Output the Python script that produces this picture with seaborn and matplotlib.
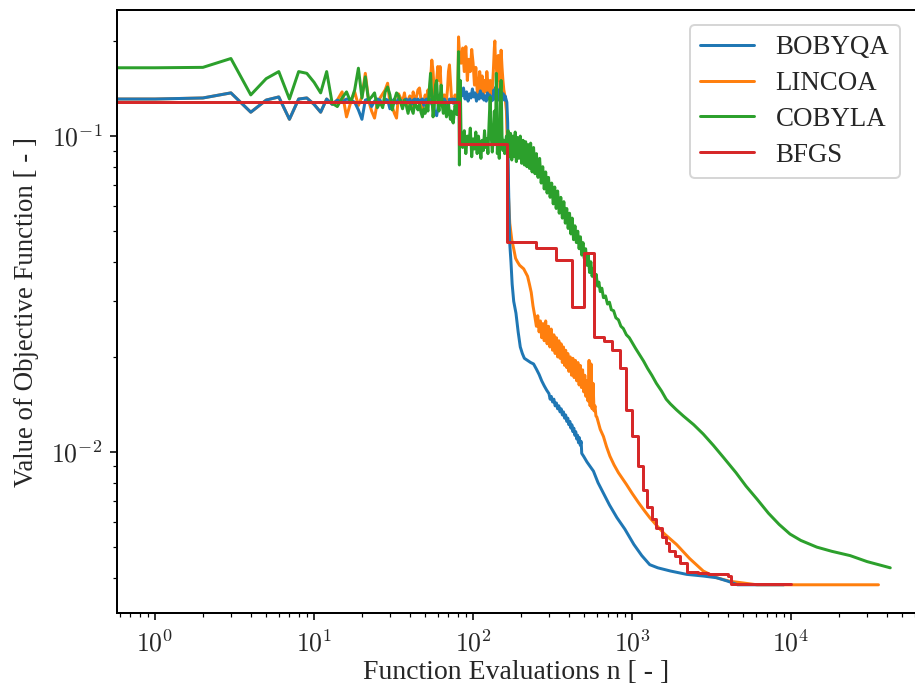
import numpy as np
import pandas as pd
import matplotlib
matplotlib.use("Agg")
import matplotlib.pyplot as plt
import seaborn as sns

# ---------------- data ----------------
labels = ["BOBYQA", "LINCOA", "COBYLA", "BFGS"]
colors = ["#1f77b4", "#ff7f0e", "#2ca02c", "#d62728"]

# shared start of BOBYQA / LINCOA
start_n = [0.5, 1, 2, 3, 4, 5, 6, 7, 8, 9, 10, 11]
start_f = [0.131, 0.131, 0.132, 0.137, 0.119, 0.130, 0.133, 0.113, 0.131, 0.132, 0.126, 0.119]

bobyqa_mid_n = list(range(12, 81))
bobyqa_mid_f = [0.131, 0.126, 0.130, 0.128, 0.131, 0.130, 0.128, 0.121, 0.113, 0.130,
                0.131, 0.124, 0.129, 0.131, 0.130, 0.125, 0.131, 0.130, 0.122, 0.129,
                0.131, 0.127, 0.131, 0.130, 0.124, 0.130, 0.131, 0.128, 0.131, 0.126,
                0.130, 0.131, 0.129, 0.131, 0.127, 0.130, 0.131, 0.125, 0.130, 0.131,
                0.128, 0.131, 0.130, 0.126, 0.131, 0.121, 0.118, 0.116, 0.122, 0.130,
                0.131, 0.127, 0.131, 0.128, 0.131, 0.129, 0.122, 0.117, 0.125, 0.131,
                0.130, 0.128, 0.131, 0.127, 0.131, 0.130, 0.129, 0.131, 0.130]
bobyqa_end_n = [81, 83, 85, 87, 89, 91, 93, 95, 97, 99, 101, 103, 105, 107, 109, 111, 113,
                115, 117, 119, 121, 123, 125, 127, 129, 131, 133, 135, 137, 139, 141, 143,
                145, 147, 149, 151, 153, 155, 157, 159, 161, 163, 165, 167, 170, 173, 176,
                180, 186, 192, 198, 204, 210, 220, 230, 240, 250, 260, 270, 280, 290, 300,
                305, 310, 316, 322, 328, 334, 340, 346, 352, 358, 364, 370, 376, 382, 388,
                394, 400, 406, 412, 418, 424, 430, 436, 442, 448, 454, 460, 466, 472, 478,
                482, 495, 520, 545, 571, 610, 661, 720, 802, 900, 1025, 1150, 1290, 1450,
                1745, 2200, 2800, 3400, 4000, 4600, 6000, 9000]
bobyqa_end_f = [0.131, 0.140, 0.134, 0.142, 0.131, 0.138, 0.129, 0.136, 0.132, 0.141, 0.133,
                0.137, 0.129, 0.135, 0.131, 0.139, 0.132, 0.136, 0.130, 0.134, 0.129, 0.137,
                0.131, 0.135, 0.128, 0.133, 0.130, 0.140, 0.131, 0.143, 0.133, 0.138, 0.130,
                0.141, 0.134, 0.138, 0.132, 0.136, 0.130, 0.134, 0.131, 0.128, 0.110, 0.070,
                0.0457, 0.040, 0.034, 0.030, 0.0275, 0.024, 0.0215, 0.0205, 0.0198, 0.0195,
                0.0192, 0.0190, 0.0183, 0.0176, 0.0168, 0.0162, 0.0157, 0.0153, 0.0147,
                0.0150, 0.0144, 0.0147, 0.0140, 0.0143, 0.0137, 0.0140, 0.0134, 0.0137,
                0.0131, 0.0134, 0.0128, 0.0131, 0.0125, 0.0128, 0.0122, 0.0125, 0.0119,
                0.0122, 0.0116, 0.0119, 0.0113, 0.0116, 0.0110, 0.0113, 0.0107, 0.0111,
                0.0105, 0.0108, 0.0099, 0.0097, 0.0093, 0.0090, 0.0087, 0.0080, 0.0074,
                0.0068, 0.0062, 0.0057, 0.0051, 0.0047, 0.0044, 0.0043, 0.0042, 0.0041,
                0.00405, 0.0040, 0.0039, 0.0038, 0.0038, 0.0038]

lincoa_mid_n = list(range(12, 81))
lincoa_mid_f = [0.131, 0.126, 0.130, 0.138, 0.115, 0.128, 0.138, 0.125, 0.133, 0.158,
                0.130, 0.120, 0.114, 0.128, 0.132, 0.136, 0.140, 0.147, 0.127, 0.124,
                0.118, 0.114, 0.136, 0.132, 0.128, 0.137, 0.125, 0.130, 0.134, 0.124,
                0.138, 0.127, 0.133, 0.140, 0.142, 0.130, 0.120, 0.128, 0.135, 0.124,
                0.140, 0.130, 0.150, 0.174, 0.160, 0.138, 0.130, 0.150, 0.166, 0.150,
                0.166, 0.140, 0.132, 0.128, 0.135, 0.126, 0.130, 0.140, 0.160, 0.168,
                0.150, 0.134, 0.128, 0.130, 0.127, 0.135, 0.131, 0.128, 0.132]
lincoa_end_n = [81, 82, 84, 86, 88, 90, 92, 94, 96, 98, 100, 102, 104, 106, 108, 110, 112,
                114, 116, 118, 120, 122, 124, 126, 128, 130, 132, 134, 136, 137, 138, 140,
                142, 144, 146, 148, 150, 152, 154, 156, 158, 160, 162, 164, 166, 170, 175,
                180, 185, 190, 196, 202, 208, 214, 220, 226, 232, 238, 244, 250, 255, 260,
                265, 270, 275, 280, 286, 292, 298, 304, 310, 316, 322, 328, 334, 340, 346,
                352, 358, 364, 370, 376, 382, 388, 394, 400, 408, 416, 424, 432, 440, 448,
                456, 464, 472, 480, 488, 496, 504, 512, 520, 528, 536, 544, 552, 560, 568,
                576, 584, 592, 600, 630, 660, 690, 725, 770, 820, 920, 1000, 1100, 1200,
                1290, 1450, 1600, 1900, 2300, 2800, 3400, 4100, 5000, 6100, 10000, 20000,
                35400]
lincoa_end_f = [0.206, 0.185, 0.170, 0.190, 0.160, 0.192, 0.150, 0.175, 0.160, 0.188, 0.170,
                0.145, 0.165, 0.140, 0.133, 0.160, 0.140, 0.155, 0.135, 0.150, 0.138, 0.160,
                0.145, 0.135, 0.150, 0.133, 0.140, 0.160, 0.190, 0.200, 0.175, 0.165, 0.150,
                0.180, 0.160, 0.140, 0.187, 0.165, 0.150, 0.140, 0.135, 0.128, 0.120, 0.095,
                0.068, 0.053, 0.047, 0.044, 0.041, 0.040, 0.039, 0.0385, 0.038, 0.037, 0.036,
                0.034, 0.032, 0.029, 0.027, 0.025, 0.027, 0.024, 0.026, 0.023, 0.0255, 0.0225,
                0.026, 0.022, 0.025, 0.0215, 0.0245, 0.021, 0.0235, 0.0205, 0.023, 0.020,
                0.0225, 0.0198, 0.022, 0.0192, 0.0215, 0.0188, 0.021, 0.0185, 0.0205, 0.018,
                0.020, 0.0175, 0.0198, 0.0172, 0.0195, 0.0168, 0.0192, 0.0163, 0.0188, 0.016,
                0.0182, 0.0155, 0.0175, 0.015, 0.0168, 0.0145, 0.0195, 0.014, 0.019, 0.0137,
                0.0165, 0.0135, 0.014, 0.013, 0.0129, 0.0118, 0.0112, 0.0104, 0.0097, 0.0091,
                0.0086, 0.0079, 0.0074, 0.0069, 0.0065, 0.0062, 0.0058, 0.0055, 0.0051,
                0.0046, 0.0042, 0.0040, 0.0039, 0.00385, 0.0038, 0.0038, 0.0038, 0.0038]

cobyla_start_n = [0.5, 1, 2, 3, 4, 5, 6, 7, 8, 9, 10, 11]
cobyla_start_f = [0.1645, 0.1645, 0.165, 0.176, 0.135, 0.152, 0.160, 0.131, 0.160, 0.158,
                  0.148, 0.137]
cobyla_mid_n = list(range(12, 81))
cobyla_mid_f = [0.160, 0.127, 0.124, 0.132, 0.138, 0.128, 0.140, 0.164, 0.132, 0.154,
                0.130, 0.133, 0.137, 0.123, 0.128, 0.123, 0.138, 0.143, 0.135, 0.121,
                0.130, 0.137, 0.134, 0.128, 0.122, 0.130, 0.125, 0.118, 0.126, 0.122,
                0.118, 0.128, 0.124, 0.121, 0.126, 0.119, 0.115, 0.122, 0.118, 0.125,
                0.120, 0.140, 0.158, 0.135, 0.115, 0.125, 0.145, 0.150, 0.128, 0.120,
                0.132, 0.145, 0.125, 0.118, 0.128, 0.122, 0.115, 0.120, 0.127, 0.118,
                0.113, 0.120, 0.112, 0.110, 0.118, 0.125, 0.121, 0.117, 0.130]
cobyla_end_n = [81, 82, 83, 84, 86, 88, 90, 92, 94, 96, 98, 100, 102, 104, 106, 108, 110,
                112, 114, 116, 118, 120, 122, 124, 126, 128, 130, 132, 134, 136, 138, 140,
                142, 144, 146, 148, 150, 152, 154, 156, 158, 160, 162, 164, 166, 169, 172,
                175, 178, 181, 184, 187, 190, 194, 198, 202, 206, 210, 214, 218, 222, 226,
                230, 235, 240, 245, 250, 256, 262, 268, 274, 280, 286, 292, 298, 305, 312,
                319, 326, 333, 340, 348, 356, 364, 372, 380, 388, 396, 404, 412, 420, 428,
                437, 446, 455, 464, 473, 482, 491, 500, 510, 520, 530, 540, 550, 560, 571,
                582, 594, 606, 618, 630, 645, 660, 680, 700, 720, 740, 765, 790, 820, 850,
                880, 920, 960, 1000, 1050, 1115, 1180, 1250, 1330, 1420, 1530, 1637, 1740,
                1900, 2100, 2440, 2800, 3240, 3760, 4500, 5200, 6090, 7200, 8400, 9830,
                11500, 14500, 18000, 23500, 30000, 42000]
cobyla_end_f = [0.185, 0.081, 0.150, 0.100, 0.092, 0.104, 0.088, 0.100, 0.094, 0.106, 0.086,
                0.098, 0.091, 0.103, 0.088, 0.100, 0.093, 0.085, 0.097, 0.090, 0.104, 0.092,
                0.098, 0.088, 0.110, 0.133, 0.100, 0.089, 0.098, 0.120, 0.095, 0.158, 0.088,
                0.100, 0.085, 0.130, 0.150, 0.100, 0.090, 0.097, 0.088, 0.095, 0.100, 0.090,
                0.104, 0.086, 0.102, 0.084, 0.100, 0.086, 0.103, 0.083, 0.099, 0.085, 0.100,
                0.082, 0.097, 0.081, 0.096, 0.080, 0.094, 0.079, 0.095, 0.077, 0.092, 0.076,
                0.088, 0.074, 0.085, 0.071, 0.080, 0.068, 0.077, 0.066, 0.074, 0.064, 0.071,
                0.061, 0.069, 0.059, 0.067, 0.057, 0.064, 0.055, 0.062, 0.053, 0.059, 0.051,
                0.057, 0.049, 0.055, 0.047, 0.052, 0.046, 0.050, 0.044, 0.048, 0.042, 0.046,
                0.041, 0.044, 0.039, 0.042, 0.037, 0.040, 0.036, 0.038, 0.0345, 0.0365,
                0.0335, 0.0345, 0.0322, 0.0330, 0.0308, 0.0312, 0.0294, 0.0298, 0.0282,
                0.0280, 0.0266, 0.0262, 0.0250, 0.0246, 0.0235, 0.0230, 0.0222, 0.0213,
                0.0203, 0.0194, 0.0184, 0.0175, 0.0165, 0.0156, 0.0147, 0.0142, 0.0136,
                0.0130, 0.0122, 0.0114, 0.0105, 0.0096, 0.0086, 0.0078, 0.0071, 0.0064,
                0.0059, 0.0055, 0.00525, 0.00500, 0.00485, 0.0047, 0.0045, 0.0043]

bfgs_n = [0.5, 81, 163, 248, 331, 418, 495, 577, 661, 752, 841, 913, 1003, 1090, 1177,
          1249, 1325, 1410, 1539, 1637, 1700, 1860, 2000, 2200, 2600, 3000, 3600, 4000,
          4200, 10000]
bfgs_f = [0.128, 0.0943, 0.0463, 0.0443, 0.0406, 0.0287, 0.0426, 0.0231, 0.0225, 0.0210,
          0.0184, 0.0136, 0.0112, 0.0090, 0.0076, 0.00668, 0.00614, 0.00574, 0.0054,
          0.00516, 0.00487, 0.0047, 0.00444, 0.00416, 0.00413, 0.00411, 0.0041, 0.00405,
          0.00381, 0.00381]

x_ticks = [1, 10, 100, 1000, 10000]
x_ticklabels = [r"$10^{0}$", r"$10^{1}$", r"$10^{2}$", r"$10^{3}$", r"$10^{4}$"]
y_ticks = [0.01, 0.1]
y_ticklabels = [r"$10^{-2}$", r"$10^{-1}$"]

# ---------------- assemble ----------------
series = {
    "BOBYQA": (start_n + bobyqa_mid_n + bobyqa_end_n, start_f + bobyqa_mid_f + bobyqa_end_f),
    "LINCOA": (start_n + lincoa_mid_n + lincoa_end_n, start_f + lincoa_mid_f + lincoa_end_f),
    "COBYLA": (cobyla_start_n + cobyla_mid_n + cobyla_end_n,
               cobyla_start_f + cobyla_mid_f + cobyla_end_f),
    "BFGS": (bfgs_n, bfgs_f),
}
zorders = {"BOBYQA": 2.2, "LINCOA": 2.1, "COBYLA": 2.3, "BFGS": 2.4}
for k, (a, b) in series.items():
    assert len(a) == len(b), (k, len(a), len(b))

sns.set_style("ticks")
plt.rcParams["font.family"] = ["Liberation Serif", "DejaVu Serif"]
plt.rcParams["mathtext.fontset"] = "cm"

fig = plt.figure(figsize=(6.4, 691 / 143), dpi=143)
ax = fig.add_axes([0.1279, 0.1129, 0.8718, 0.8726])
ax.set_xscale("log")
ax.set_yscale("log")

for lab, col in zip(labels, colors):
    n, f = series[lab]
    df = pd.DataFrame({"n": n, "f": f})
    kw = {}
    if lab == "BFGS":
        kw["drawstyle"] = "steps-post"
    sns.lineplot(data=df, x="n", y="f", ax=ax, color=col, label=lab, lw=1.5,
                 estimator=None, sort=False, errorbar=None, zorder=zorders[lab], **kw)

ax.set_xlim(0.577, 60000)
ax.set_ylim(0.003094, 0.2506)
ax.set_xticks(x_ticks)
ax.set_xticklabels(x_ticklabels)
ax.set_yticks(y_ticks)
ax.set_yticklabels(y_ticklabels)
ax.tick_params(axis="both", which="major", labelsize=13, length=3.5, width=0.8,
               color="black", pad=4)
ax.tick_params(axis="x", which="major", pad=5)
ax.tick_params(axis="both", which="minor", length=2, width=0.6, color="black")
for s in ["left", "bottom", "top"]:
    ax.spines[s].set_visible(True)
    ax.spines[s].set_color("black")
    ax.spines[s].set_linewidth(1.0)
ax.spines["right"].set_visible(False)

ax.set_xlabel("Function Evaluations n [ - ]", fontsize=14, labelpad=2)
ax.set_ylabel("Value of Objective Function [ - ]", fontsize=13.5, labelpad=6)
leg = ax.legend(loc="upper right", fontsize=13.5, frameon=True, fancybox=True,
                bbox_to_anchor=(0.998, 0.998), labelspacing=0.4, handlelength=2.0,
                borderpad=0.4)
leg.get_frame().set_edgecolor("0.8")

fig.savefig("out.png", dpi=143)
